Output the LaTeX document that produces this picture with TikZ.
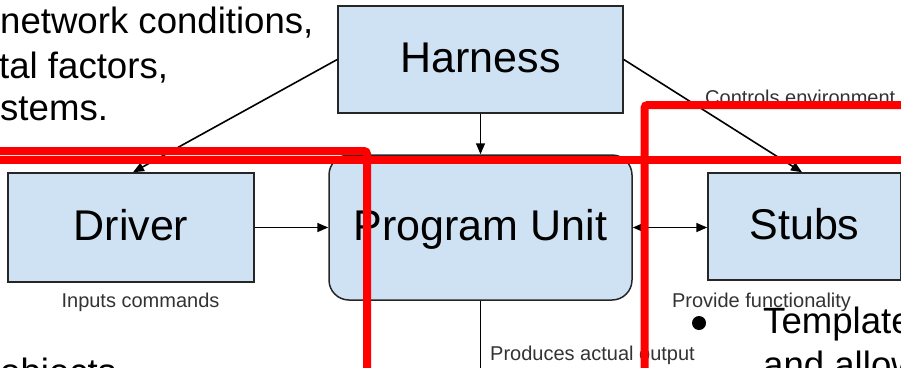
\documentclass[tikz,border=0pt]{standalone}
\usepackage{fontspec}
\setmainfont{Liberation Sans}
\usetikzlibrary{arrows.meta,calc}
\definecolor{boxblue}{HTML}{CFE2F3}
\begin{document}
\begin{tikzpicture}[x=1pt,y=-1pt,
  box/.style={draw=black!85, line width=1.5pt, fill=boxblue, inner sep=0pt,
    font=\fontsize{43}{43}\selectfont, text height=28pt, text depth=2pt},
  tip/.style={Triangle[length=11pt,width=9pt]},
  arr/.style={draw=black, line width=1.6pt, -{Triangle[length=11pt,width=9pt]}},
  lbl/.style={font=\fontsize{20}{20}\selectfont, text=black!80, inner sep=0pt, anchor=base},
  slide/.style={font=\fontsize{36.6}{36.6}\selectfont, inner sep=0pt, anchor=base west},
  redline/.style={draw=red, line width=8pt, rounded corners=3pt}]
\useasboundingbox (0,0) rectangle (901,367);

% background slide text
\node[slide] (s1) at (0,33) {network conditions,};
\node[slide] (s2) at (-1,78) {tal factors,};
\node[slide] (s3) at (0,120) {stems.};
\node[slide] (s4) at (0,384) {objects};
\node[slide] (s5) at (763,333) {Template};
\node[slide] (s6) at (763,377) {and allow};
\fill (699,323) circle (7pt);

% boxes
\node[box, minimum width=285pt, minimum height=107pt] (H) at (480.5,59.5) {Harness};
\node[box, minimum width=246pt, minimum height=109pt] (D) at (131,227.5) {Driver};
\node[box, minimum width=303pt, minimum height=145pt, rounded corners=20pt] (P) at (480.5,227.5) {Program Unit};
\node[box, minimum width=193pt, minimum height=107pt] (S) at (804.5,226.5) {Stubs};
\coordinate (end) at (480.5,380);

% connectors
\draw[arr] (H.west) -- ($(D.north)+(2,0)$);
\draw[arr] (H.south) -- (P.north);
\draw[arr] (H.east) -- ($(S.north)+(-2.5,0)$);
\draw[arr] (D.east) -- (P.west);
\draw[arr, {Triangle[length=11pt,width=9pt]}-{Triangle[length=11pt,width=9pt]}] (P.east) -- (P.east -| S.west);
\draw[line width=1.6pt] (P.south) -- (end);

% labels
\node[lbl] (l1) at (140.5,307) {Inputs commands};
\node[lbl] (l2) at (761.5,307) {Provide functionality};
\node[lbl, anchor=base west] (l3) at (490,360) {Produces actual output};
\node[lbl, anchor=base west] (l4) at (705,104) {Controls environment};

% red overlay lines
\draw[redline] (-10,151) -- (367,151) -- (367,380);
\draw[redline] (-10,159.5) -- (911,159.5);
\draw[redline] (911,105) -- (644.5,105) -- (644.5,380);
\end{tikzpicture}
\end{document}
